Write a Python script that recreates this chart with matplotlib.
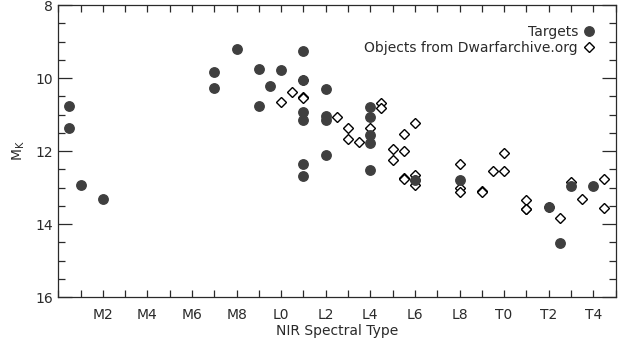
import matplotlib
matplotlib.use("Agg")
import matplotlib.pyplot as plt
from matplotlib.ticker import MultipleLocator, FixedLocator
from matplotlib.lines import Line2D

# Spectral type numeric: M0 = 0, L0 = 10, T0 = 20
target_spt = [0.5, 0.5, 1, 2, 7, 7, 8, 9, 9, 9.5, 10, 11, 11, 11, 11, 11, 11,
              12, 12, 12, 12, 14, 14, 14, 14, 14, 16, 18, 22, 22.5, 23, 24]
target_mk = [10.77, 11.37, 12.93, 13.32, 9.84, 10.27, 9.21, 9.74, 10.77, 10.23, 9.77,
             9.25, 10.05, 10.93, 11.14, 12.36, 12.68,
             10.29, 11.05, 11.14, 12.12, 10.80, 11.06, 11.56, 11.79, 12.51,
             12.80, 12.79, 13.53, 14.51, 12.96, 12.96]

archive_spt = [10, 10.5, 11, 11, 11, 12.5, 13, 13, 13.5, 14, 14.5, 14.5, 15, 15,
               15.5, 15.5, 15.5, 15.5, 16, 16, 16, 16, 18, 18, 18, 19, 19, 19.5,
               20, 20, 21, 21, 21, 22, 22.5, 23, 23.5, 24.5, 24.5]
archive_mk = [10.65, 10.39, 10.05, 10.52, 10.56, 11.06, 11.36, 11.68, 11.76, 11.37,
              10.69, 10.83, 11.95, 12.25, 11.53, 12.00, 12.74, 12.76, 11.24, 12.66,
              12.80, 12.93, 12.36, 13.02, 13.13, 13.10, 13.12, 12.54, 12.05, 12.54,
              13.34, 13.58, 13.60, 13.53, 13.84, 12.84, 13.32, 12.78, 13.57]

tick_pos = [2, 4, 6, 8, 10, 12, 14, 16, 18, 20, 22, 24]
tick_labels = ['M2', 'M4', 'M6', 'M8', 'L0', 'L2', 'L4', 'L6', 'L8', 'T0', 'T2', 'T4']

plt.rcParams['font.family'] = ['DejaVu Sans']
txt = '#2a2a2a'
fig = plt.figure(figsize=(6.23, 3.45), dpi=100)
ax = fig.add_axes([0.0936, 0.139, 0.8944, 0.8465])

ax.plot(archive_spt, archive_mk, linestyle='none', marker='D', markersize=5,
        markerfacecolor='white', markeredgecolor='black', markeredgewidth=1.0, zorder=2)
ax.plot(target_spt, target_mk, linestyle='none', marker='o', markersize=6.8,
        markerfacecolor='#3f3f3f', markeredgecolor='#3f3f3f', zorder=3)

ax.set_xlim(0, 25)
ax.set_ylim(16, 8)
ax.xaxis.set_major_locator(FixedLocator(tick_pos))
ax.set_xticklabels(tick_labels)
ax.xaxis.set_minor_locator(MultipleLocator(1))
ax.yaxis.set_major_locator(MultipleLocator(2))
ax.yaxis.set_minor_locator(MultipleLocator(0.5))

ax.tick_params(axis='both', which='both', direction='in', top=True, right=True,
               colors=txt, labelsize=10, width=0.9)
ax.tick_params(axis='x', which='both', length=5, pad=8)
ax.tick_params(axis='y', which='major', length=10, pad=4)
ax.tick_params(axis='y', which='minor', length=5)
for s in ax.spines.values():
    s.set_color(txt)
    s.set_linewidth(0.9)

ax.set_xlabel('NIR Spectral Type', fontsize=10, color=txt, labelpad=1)
ax.set_ylabel(r'M$_\mathrm{K}$', fontsize=10, color=txt, labelpad=6)

handles = [Line2D([], [], linestyle='none', marker='o', markersize=6.8,
                  markerfacecolor='#3f3f3f', markeredgecolor='#3f3f3f'),
           Line2D([], [], linestyle='none', marker='D', markersize=5,
                  markerfacecolor='white', markeredgecolor='black', markeredgewidth=1.0)]
leg = ax.legend(handles, ['Targets', 'Objects from Dwarfarchive.org'], loc='upper right',
                markerfirst=False, frameon=False, fontsize=10, handlelength=0.8,
                handletextpad=0.4, labelspacing=0.15, borderaxespad=0.5,
                bbox_to_anchor=(0.985, 0.975))
for t in leg.get_texts():
    t.set_color(txt)
    t.set_ha('right')

fig.savefig('out.png', dpi=100)
